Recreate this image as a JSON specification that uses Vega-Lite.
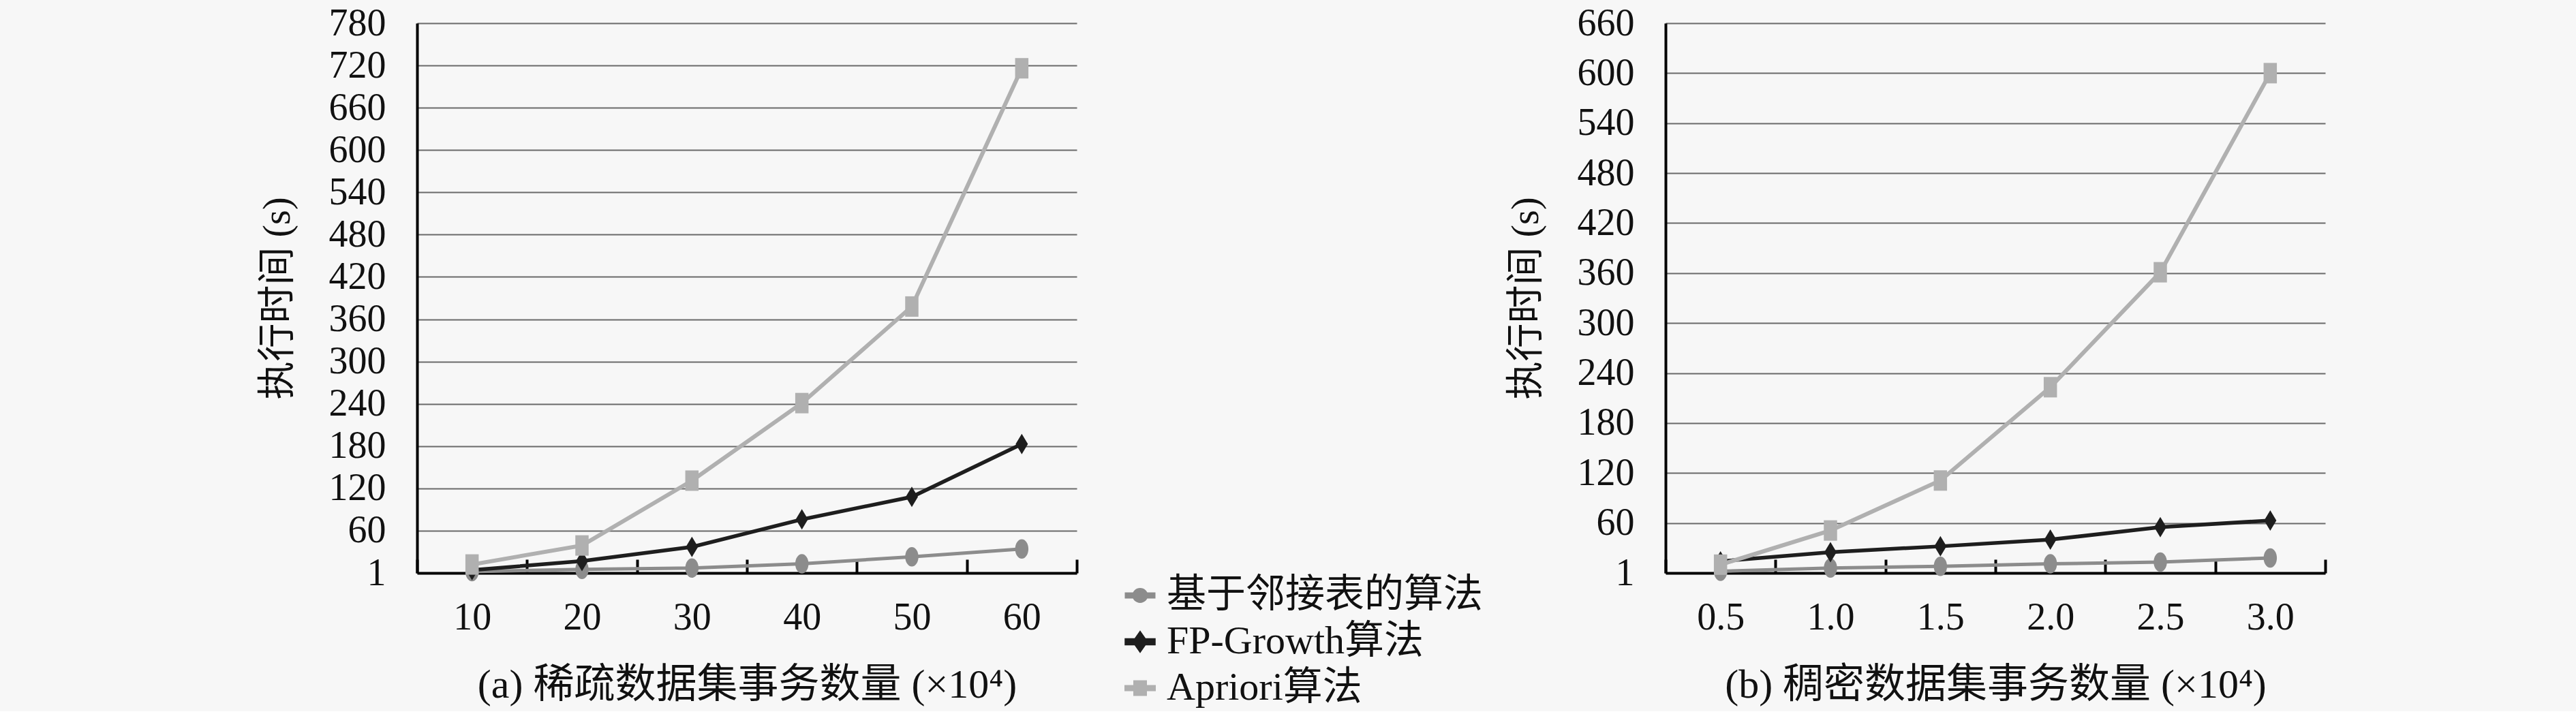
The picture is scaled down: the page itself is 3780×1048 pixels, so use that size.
{
  "$schema": "https://vega.github.io/schema/vega-lite/v6.json",
  "background": "#f7f7f7",
  "padding": {"left": 379, "top": 6, "right": 369, "bottom": 5},
  "datasets": {
    "sparse": [
      {"n": "10", "algo": "基于邻接表的算法", "t": 2},
      {"n": "20", "algo": "基于邻接表的算法", "t": 5},
      {"n": "30", "algo": "基于邻接表的算法", "t": 7},
      {"n": "40", "algo": "基于邻接表的算法", "t": 13},
      {"n": "50", "algo": "基于邻接表的算法", "t": 23},
      {"n": "60", "algo": "基于邻接表的算法", "t": 34},
      {"n": "10", "algo": "FP-Growth算法", "t": 4},
      {"n": "20", "algo": "FP-Growth算法", "t": 17},
      {"n": "30", "algo": "FP-Growth算法", "t": 37},
      {"n": "40", "algo": "FP-Growth算法", "t": 76},
      {"n": "50", "algo": "FP-Growth算法", "t": 108},
      {"n": "60", "algo": "FP-Growth算法", "t": 183},
      {"n": "10", "algo": "Apriori算法", "t": 12},
      {"n": "20", "algo": "Apriori算法", "t": 39},
      {"n": "30", "algo": "Apriori算法", "t": 131},
      {"n": "40", "algo": "Apriori算法", "t": 241},
      {"n": "50", "algo": "Apriori算法", "t": 378},
      {"n": "60", "algo": "Apriori算法", "t": 716}
    ],
    "dense": [
      {"n": "0.5", "algo": "基于邻接表的算法", "t": 2},
      {"n": "1.0", "algo": "基于邻接表的算法", "t": 6},
      {"n": "1.5", "algo": "基于邻接表的算法", "t": 8},
      {"n": "2.0", "algo": "基于邻接表的算法", "t": 11},
      {"n": "2.5", "algo": "基于邻接表的算法", "t": 13},
      {"n": "3.0", "algo": "基于邻接表的算法", "t": 18},
      {"n": "0.5", "algo": "FP-Growth算法", "t": 14},
      {"n": "1.0", "algo": "FP-Growth算法", "t": 25},
      {"n": "1.5", "algo": "FP-Growth算法", "t": 32},
      {"n": "2.0", "algo": "FP-Growth算法", "t": 40},
      {"n": "2.5", "algo": "FP-Growth算法", "t": 55},
      {"n": "3.0", "algo": "FP-Growth算法", "t": 63},
      {"n": "0.5", "algo": "Apriori算法", "t": 10},
      {"n": "1.0", "algo": "Apriori算法", "t": 51},
      {"n": "1.5", "algo": "Apriori算法", "t": 111},
      {"n": "2.0", "algo": "Apriori算法", "t": 223},
      {"n": "2.5", "algo": "Apriori算法", "t": 361},
      {"n": "3.0", "algo": "Apriori算法", "t": 600}
    ]
  },
  "spacing": 629,
  "resolve": {"scale": {"color": "shared"}},
  "hconcat": [
    {
      "width": 968,
      "height": 807,
      "data": {"name": "sparse"},
      "encoding": {
        "x": {"field": "n", "type": "ordinal", "title": "(a) 稀疏数据集事务数量 (×10⁴)",
          "scale": {"type": "band", "paddingInner": 0, "paddingOuter": 0}},
        "y": {"field": "t", "type": "quantitative", "title": "执行时间 (s)",
          "scale": {"domain": [0, 780], "nice": false},
          "axis": {"values": [0, 60, 120, 180, 240, 300, 360, 420, 480, 540, 600, 660, 720, 780]}},
        "color": {"field": "algo", "type": "nominal",
          "scale": {"domain": ["基于邻接表的算法", "FP-Growth算法", "Apriori算法"], "range": ["#8c8c8c", "#1e1e1e", "#b0b0b0"]},
          "legend": {
            "orient": "none", "legendX": 1032, "legendY": 811, "title": null,
            "encode": {
              "symbols": {
                "update": {
                  "shape": {"signal": "datum.value == '基于邻接表的算法' ? 'M-1,-0.1H1V0.1H-1Z M0.45,0A0.45,0.42 0 1,1 -0.45,0A0.45,0.42 0 1,1 0.45,0Z' : datum.value == 'FP-Growth算法' ? 'M-1,-0.12H1V0.12H-1Z M0,-0.6L0.42,0L0,0.6L-0.42,0Z' : 'M-1,-0.08H1V0.08H-1Z M-0.35,-0.42H0.35V0.42H-0.35Z'"},
                  "fill": {"signal": "datum.value == 'FP-Growth算法' ? '#1e1e1e' : datum.value == 'Apriori算法' ? '#acacac' : '#8c8c8c'"},
                  "strokeWidth": {"value": 0},
                  "opacity": {"value": 1}
                }
              }
            }
          }}
      },
      "layer": [
        {
          "mark": {"type": "line"},
          "encoding": {
            "strokeWidth": {"field": "algo", "type": "nominal", "legend": null,
              "scale": {"domain": ["基于邻接表的算法", "FP-Growth算法", "Apriori算法"], "range": [5, 6, 3]}}
          }
        },
        {
          "transform": [{"filter": "datum.algo == '基于邻接表的算法'"}],
          "mark": {"type": "point", "filled": true, "opacity": 1, "size": 900, "shape": "M0.65,0A0.65,0.95 0 1,1 -0.65,0A0.65,0.95 0 1,1 0.65,0Z"}
        },
        {
          "transform": [{"filter": "datum.algo == 'FP-Growth算法'"}],
          "mark": {"type": "point", "filled": true, "opacity": 1, "size": 900, "shape": "M0,-1L0.6,0L0,1L-0.6,0Z"}
        },
        {
          "transform": [{"filter": "datum.algo == 'Apriori算法'"}],
          "mark": {"type": "point", "filled": true, "opacity": 1, "size": 900, "shape": "M-0.65,-1H0.65V1H-0.65Z"}
        }
      ]
    },
    {
      "width": 968,
      "height": 807,
      "data": {"name": "dense"},
      "encoding": {
        "x": {"field": "n", "type": "ordinal", "title": "(b) 稠密数据集事务数量 (×10⁴)",
          "scale": {"type": "band", "paddingInner": 0, "paddingOuter": 0}},
        "y": {"field": "t", "type": "quantitative", "title": "执行时间 (s)",
          "scale": {"domain": [0, 660], "nice": false},
          "axis": {"values": [0, 60, 120, 180, 240, 300, 360, 420, 480, 540, 600, 660]}},
        "color": {"field": "algo", "type": "nominal"}
      },
      "layer": [
        {
          "mark": {"type": "line"},
          "encoding": {
            "strokeWidth": {"field": "algo", "type": "nominal", "legend": null,
              "scale": {"domain": ["基于邻接表的算法", "FP-Growth算法", "Apriori算法"], "range": [5, 6, 3]}}
          }
        },
        {
          "transform": [{"filter": "datum.algo == '基于邻接表的算法'"}],
          "mark": {"type": "point", "filled": true, "opacity": 1, "size": 900, "shape": "M0.65,0A0.65,0.95 0 1,1 -0.65,0A0.65,0.95 0 1,1 0.65,0Z"}
        },
        {
          "transform": [{"filter": "datum.algo == 'FP-Growth算法'"}],
          "mark": {"type": "point", "filled": true, "opacity": 1, "size": 900, "shape": "M0,-1L0.6,0L0,1L-0.6,0Z"}
        },
        {
          "transform": [{"filter": "datum.algo == 'Apriori算法'"}],
          "mark": {"type": "point", "filled": true, "opacity": 1, "size": 900, "shape": "M-0.65,-1H0.65V1H-0.65Z"}
        }
      ]
    }
  ],
  "config": {
    "font": "Liberation Serif, Noto Sans CJK SC",
    "view": {"stroke": null},
    "axis": {
      "labelFont": "Liberation Serif, Noto Sans CJK SC",
      "titleFont": "Liberation Serif, Noto Sans CJK SC",
      "labelFontSize": 56,
      "titleFontSize": 60,
      "titleFontWeight": "normal",
      "labelColor": "#111111",
      "titleColor": "#111111",
      "domainColor": "#000000",
      "domainWidth": 4
    },
    "axisY": {
      "labelExpr": "datum.value == 0 ? '1' : datum.label",
      "grid": true,
      "gridColor": "#6a6a6a",
      "gridWidth": 2,
      "ticks": false,
      "labelPadding": 46,
      "titlePadding": 46,
      "titleFontSize": 56
    },
    "axisX": {
      "labelAngle": 0,
      "grid": false,
      "tickBand": "extent",
      "ticks": true,
      "tickSize": -20,
      "tickColor": "#000000",
      "tickWidth": 4,
      "labelPadding": 58,
      "titlePadding": 42
    },
    "legend": {
      "labelFont": "Liberation Serif, Noto Sans CJK SC",
      "labelFontSize": 58,
      "labelLimit": 0,
      "labelColor": "#111111",
      "labelOffset": 10,
      "padding": 0,
      "rowPadding": 10,
      "symbolSize": 1600,
      "symbolStrokeWidth": 0
    }
  }
}
